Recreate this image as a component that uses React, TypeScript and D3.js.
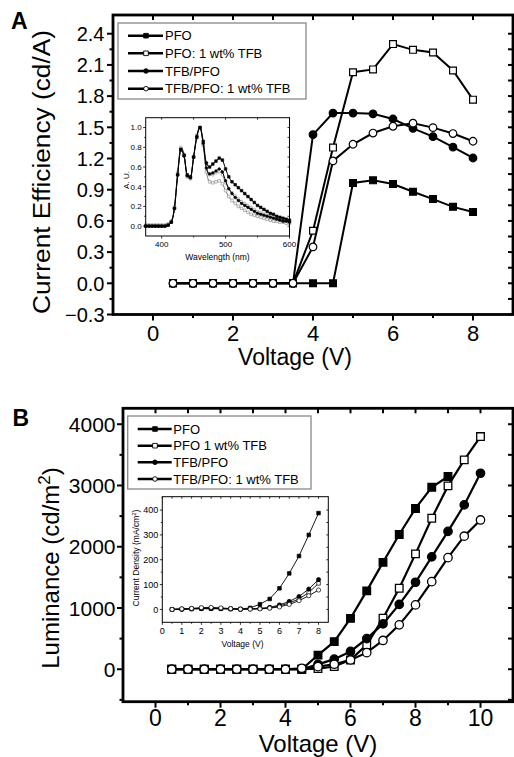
import React, { useEffect, useRef } from "react";
import * as d3 from "d3";

const W = 514,
  H = 757;
const FONT = "'Liberation Sans', Arial, Helvetica, sans-serif";

// ---- panel A: current efficiency vs voltage
const effVolt = [0.5, 1, 1.5, 2, 2.5, 3, 3.5, 4, 4.5, 5, 5.5, 6, 6.5, 7, 7.5, 8];
const effPfo = [0, 0, 0, 0, 0, 0, 0, 0, 0, 0.965, 0.99, 0.955, 0.88, 0.81, 0.735, 0.685];
const effPfoTfb = [0, 0, 0, 0, 0, 0, 0, 0.505, 1.305, 2.03, 2.057, 2.3, 2.245, 2.22, 2.047, 1.766];
const effTfbPfo = [0, 0, 0, 0, 0, 0, 0, 1.43, 1.637, 1.637, 1.63, 1.58, 1.49, 1.41, 1.31, 1.205];
const effTfbPfoTfb = [0, 0, 0, 0, 0, 0, 0, 0.35, 1.177, 1.337, 1.445, 1.51, 1.54, 1.497, 1.44, 1.366];
const namesA = ["PFO", "PFO: 1 wt% TFB", "TFB/PFO", "TFB/PFO: 1 wt% TFB"];
const effXTicks = [0, 2, 4, 6, 8];
const effXMinor = [1, 3, 5, 7];
const effYTicks = [-0.3, 0, 0.3, 0.6, 0.9, 1.2, 1.5, 1.8, 2.1, 2.4];
const effYMinor = [-0.15, 0.15, 0.45, 0.75, 1.05, 1.35, 1.65, 1.95, 2.25];

// inset A: EL spectra
const wl = [375, 380, 385, 390, 395, 400, 405, 410, 415, 420, 425, 430, 435, 440, 445, 450, 455, 460, 465, 470, 475, 480, 485, 490, 495, 500, 505, 510, 515, 520, 525, 530, 535, 540, 545, 550, 555, 560, 565, 570, 575, 580, 585, 590, 595, 600];
const specPfo = [0, 0, 0, 0, 0, 0, 0, 0.01, 0.04, 0.18, 0.52, 0.78, 0.72, 0.52, 0.5, 0.7, 0.9, 1.0, 0.86, 0.64, 0.6, 0.63, 0.66, 0.69, 0.67, 0.58, 0.5, 0.45, 0.42, 0.39, 0.36, 0.33, 0.3, 0.27, 0.24, 0.21, 0.19, 0.17, 0.15, 0.13, 0.12, 0.1, 0.09, 0.08, 0.07, 0.06];
const specPfoTfb = [0.01, 0.01, 0.01, 0.01, 0.01, 0.01, 0.01, 0.02, 0.05, 0.19, 0.53, 0.79, 0.72, 0.5, 0.48, 0.7, 0.92, 1.0, 0.82, 0.55, 0.45, 0.44, 0.45, 0.46, 0.43, 0.36, 0.3, 0.26, 0.23, 0.2, 0.18, 0.16, 0.14, 0.12, 0.11, 0.1, 0.09, 0.08, 0.07, 0.06, 0.05, 0.05, 0.04, 0.04, 0.03, 0.03];
const specTfbPfo = [0, 0, 0, 0, 0, 0, 0, 0.01, 0.04, 0.18, 0.52, 0.77, 0.71, 0.51, 0.49, 0.7, 0.91, 1.0, 0.84, 0.59, 0.53, 0.54, 0.56, 0.58, 0.55, 0.46, 0.38, 0.33, 0.29, 0.26, 0.23, 0.21, 0.19, 0.17, 0.15, 0.13, 0.12, 0.11, 0.1, 0.09, 0.08, 0.07, 0.06, 0.05, 0.05, 0.04];
const specTfbPfoTfb = [0.01, 0.01, 0.01, 0.01, 0.01, 0.01, 0.01, 0.02, 0.05, 0.2, 0.55, 0.8, 0.73, 0.51, 0.49, 0.71, 0.92, 1.0, 0.83, 0.58, 0.52, 0.52, 0.54, 0.55, 0.52, 0.44, 0.38, 0.34, 0.31, 0.28, 0.25, 0.23, 0.21, 0.19, 0.17, 0.15, 0.14, 0.12, 0.11, 0.1, 0.09, 0.08, 0.07, 0.06, 0.05, 0.05];
const wlTicks = [400, 500, 600];
const wlMinor = [450, 550];
const auTicks = [0, 0.2, 0.4, 0.6, 0.8, 1.0];
const auMinor = [0.1, 0.3, 0.5, 0.7, 0.9];

// ---- panel B: luminance vs voltage
const lumVolt = [0.5, 1, 1.5, 2, 2.5, 3, 3.5, 4, 4.5, 5, 5.5, 6, 6.5, 7, 7.5, 8, 8.5, 9, 9.5, 10];
const lumPfo = [0, 0, 0, 0, 0, 0, 0, 0, 0, 230, 450, 830, 1280, 1745, 2200, 2625, 2971, 3146];
const lumPfoTfb = [0, 0, 0, 0, 0, 0, 0, 0, 0, 11, 44, 152, 397, 833, 1322, 1883, 2465, 2993, 3418, 3799];
const lumTfbPfo = [0, 0, 0, 0, 0, 0, 0, 0, 0, 80, 165, 290, 500, 740, 1058, 1420, 1835, 2250, 2683, 3200];
const lumTfbPfoTfb = [0, 0, 0, 0, 0, 0, 0, 0, 16, 42, 82, 152, 271, 470, 725, 1050, 1430, 1822, 2172, 2437];
const namesB = ["PFO", "PFO 1 wt% TFB", "TFB/PFO", "TFB/PFO: 1 wt% TFB"];
const lumXTicks = [0, 2, 4, 6, 8, 10];
const lumXMinor = [1, 3, 5, 7, 9];
const lumYTicks = [0, 1000, 2000, 3000, 4000];
const lumYMinor = [-500, 500, 1500, 2500, 3500];

// inset B: current density
const jPfo = [0, 1, 2, 3, 3, 3, 2, 1, 6, 21, 42, 85, 145, 215, 300, 388];
const jPfoTfb = [0, 1, 3, 5, 5, 4, 2, 1, 2, 3, 6, 14, 26, 42, 68, 105];
const jTfbPfo = [0, 1, 2, 3, 3, 3, 2, 1, 2, 4, 8, 18, 32, 52, 82, 120];
const jTfbPfoTfb = [0, 2, 4, 7, 8, 6, 3, 1, 1, 2, 5, 10, 20, 35, 55, 78];
const jXTicks = [0, 1, 2, 3, 4, 5, 6, 7, 8];
const jXMinor = [0.5, 1.5, 2.5, 3.5, 4.5, 5.5, 6.5, 7.5];
const jYTicks = [0, 100, 200, 300, 400];
const jYMinor = [50, 150, 250, 350];

// marker styles per series (square filled, square open, circle filled, circle open)
const markStyles = [
  { shape: d3.symbolSquare, filled: true },
  { shape: d3.symbolSquare, filled: false },
  { shape: d3.symbolCircle, filled: true },
  { shape: d3.symbolCircle, filled: false }
];

function sym(type, d) {
  // d = visual width
  const size = type === d3.symbolCircle ? (Math.PI * d * d) / 4 : d * d;
  return d3.symbol().type(type).size(size)();
}

function drawBox(g, x, y, c) {
  const [l, r] = x.range();
  const [b, t] = y.range();
  const ln = (x1, y1, x2, y2, w) =>
    g.append("line").attr("x1", x1).attr("y1", y1).attr("x2", x2).attr("y2", y2)
      .attr("stroke", "#000").attr("stroke-width", w);
  c.xMinor.forEach(v => {
    ln(x(v), b, x(v), b + c.minLen, c.tw);
    ln(x(v), t, x(v), t + c.inLen, c.tw);
  });
  c.xMajor.forEach(v => {
    ln(x(v), b, x(v), b + c.majLen, c.tw);
    ln(x(v), t, x(v), t + c.inLen, c.tw);
    g.append("text").attr("x", x(v)).attr("y", b + c.xLabOff)
      .attr("text-anchor", "middle").attr("font-size", c.xFont).text(c.xFmt(v));
  });
  c.yMinor.forEach(v => {
    ln(l, y(v), l - c.minLen, y(v), c.tw);
    ln(r, y(v), r - c.inLen, y(v), c.tw);
  });
  c.yMajor.forEach(v => {
    ln(l, y(v), l - c.majLen, y(v), c.tw);
    ln(r, y(v), r - c.inLen, y(v), c.tw);
    g.append("text").attr("x", l - c.yLabOff).attr("y", y(v)).attr("dy", "0.36em")
      .attr("text-anchor", "end").attr("font-size", c.yFont).text(c.yFmt(v));
  });
  g.append("rect").attr("x", l).attr("y", t).attr("width", r - l).attr("height", b - t)
    .attr("fill", "none").attr("stroke", "#000").attr("stroke-width", c.sw);
}

function drawSeries(g, x, y, xs, ys, st, o) {
  const pts = ys.map((v, i) => [xs[i], v]);
  const line = d3.line().x(d => x(d[0])).y(d => y(d[1]));
  if (o.curve) line.curve(o.curve);
  g.append("path").attr("d", line(pts)).attr("fill", "none")
    .attr("stroke", o.lineColor).attr("stroke-width", o.lw);
  g.append("g").selectAll("path").data(pts).enter().append("path")
    .attr("transform", d => "translate(" + x(d[0]) + "," + y(d[1]) + ")")
    .attr("d", sym(st.shape, o.size))
    .attr("fill", st.filled ? o.markColor : "#fff")
    .attr("stroke", o.markColor).attr("stroke-width", o.msw);
}

function drawLegend(g, names, box, rows, lx1, lx2, mx, tx) {
  g.append("rect").attr("x", box[0]).attr("y", box[1]).attr("width", box[2]).attr("height", box[3])
    .attr("fill", "#fff").attr("stroke", "#888").attr("stroke-width", 1.3);
  names.forEach((n, i) => {
    const st = markStyles[i];
    g.append("line").attr("x1", lx1).attr("x2", lx2).attr("y1", rows[i]).attr("y2", rows[i])
      .attr("stroke", "#000").attr("stroke-width", 2.4);
    g.append("path").attr("transform", "translate(" + mx + "," + rows[i] + ")")
      .attr("d", sym(st.shape, 4.6)).attr("fill", st.filled ? "#000" : "#fff")
      .attr("stroke", "#000").attr("stroke-width", 0.9);
    g.append("text").attr("x", tx).attr("y", rows[i]).attr("dy", "0.36em")
      .attr("font-size", 13).text(n);
  });
}

export default function App() {
  const ref = useRef(null);

  useEffect(() => {
    const svg = d3.select(ref.current);
    svg.selectAll("*").remove();
    svg.attr("font-family", FONT).attr("fill", "#000");

    // ---------------- Panel A
    const gA = svg.append("g");
    const xA = d3.scaleLinear().domain([-1, 9]).range([113, 513]);
    const yA = d3.scaleLinear().domain([-0.3, 2.58]).range([314.5, 15]);
    const fmt1 = d3.format(".1f");

    const effSeries = [effPfo, effPfoTfb, effTfbPfo, effTfbPfoTfb];
    effSeries.forEach((s, i) =>
      drawSeries(gA, xA, yA, effVolt, s, markStyles[i], {
        lineColor: "#000", markColor: "#000", lw: 2, msw: 1.2,
        size: markStyles[i].shape === d3.symbolCircle ? 7.6 : 6.8
      })
    );

    drawBox(gA, xA, yA, {
      xMajor: effXTicks, xMinor: effXMinor, yMajor: effYTicks, yMinor: effYMinor,
      majLen: 6, minLen: 3.5, inLen: 5, tw: 2, sw: 2.8,
      xFont: 22, yFont: 20, xLabOff: 26, yLabOff: 8.5,
      xFmt: d => d, yFmt: fmt1
    });

    drawLegend(gA, namesA, [118, 23, 188, 76], [35.7, 53.3, 71, 88.7], 128, 163, 146, 165);

    // inset A
    const iA = gA.append("g");
    const xiA = d3.scaleLinear().domain([375, 600]).range([145.7, 289.5]);
    const yiA = d3.scaleLinear().domain([-0.1, 1.1]).range([236, 117.7]);
    iA.append("rect").attr("x", 145.7).attr("y", 117.7).attr("width", 143.8).attr("height", 118.3).attr("fill", "#fff");
    const specs = [specPfoTfb, specTfbPfoTfb, specTfbPfo, specPfo];
    const specSt = [markStyles[1], markStyles[3], markStyles[2], markStyles[0]];
    specs.forEach((s, i) =>
      drawSeries(iA, xiA, yiA, wl, s, specSt[i], {
        curve: d3.curveMonotoneX,
        lineColor: specSt[i].filled ? "#000" : "#777",
        markColor: specSt[i].filled ? "#000" : "#888",
        lw: 1, msw: 0.6, size: 2.6
      })
    );
    drawBox(iA, xiA, yiA, {
      xMajor: wlTicks, xMinor: wlMinor, yMajor: auTicks, yMinor: auMinor,
      majLen: 2.5, minLen: 1.5, inLen: 2, tw: 0.8, sw: 1,
      xFont: 8, yFont: 8, xLabOff: 10.5, yLabOff: 4,
      xFmt: d => d, yFmt: fmt1
    });
    iA.append("text").attr("x", 217.5).attr("y", 259.5).attr("text-anchor", "middle")
      .attr("font-size", 8.5).text("Wavelength (nm)");
    iA.append("text").attr("transform", "translate(129,180) rotate(-90)")
      .attr("text-anchor", "middle").attr("font-size", 8).text("A. U.");

    // titles A
    gA.append("text").attr("x", 295).attr("y", 365).attr("text-anchor", "middle")
      .attr("font-size", 23).text("Voltage (V)");
    gA.append("text").attr("transform", "translate(50,172) rotate(-90)")
      .attr("text-anchor", "middle").attr("font-size", 23)
      .attr("textLength", 284).attr("lengthAdjust", "spacingAndGlyphs")
      .text("Current Efficiency (cd/A)");
    gA.append("text").attr("x", 11).attr("y", 28.5).attr("font-size", 23)
      .attr("font-weight", "bold").text("A");

    // ---------------- Panel B
    const gB = svg.append("g");
    const xB = d3.scaleLinear().domain([-1, 11]).range([123, 513]);
    const yB = d3.scaleLinear().domain([-530, 4260]).range([701.7, 408.3]);

    const lumSeries = [lumPfo, lumPfoTfb, lumTfbPfo, lumTfbPfoTfb];
    lumSeries.forEach((s, i) =>
      drawSeries(gB, xB, yB, lumVolt, s, markStyles[i], {
        lineColor: "#000", markColor: "#000", lw: 2.2, msw: 1.3,
        size: markStyles[i].shape === d3.symbolCircle ? 8.4 : 7.6
      })
    );

    drawBox(gB, xB, yB, {
      xMajor: lumXTicks, xMinor: lumXMinor, yMajor: lumYTicks, yMinor: lumYMinor,
      majLen: 6, minLen: 3.5, inLen: 5, tw: 2, sw: 2.8,
      xFont: 23, yFont: 21, xLabOff: 24.5, yLabOff: 7.5,
      xFmt: d => d, yFmt: d => d
    });

    drawLegend(gB, namesB, [127.7, 416, 183.3, 73], [429, 445.7, 462.3, 479], 137.7, 171.7, 155, 173.3);

    // inset B
    const iB = gB.append("g");
    const xiB = d3.scaleLinear().domain([0, 8.5]).range([162.3, 328.3]);
    const yiB = d3.scaleLinear().domain([-52, 454]).range([622.3, 496.7]);
    iB.append("rect").attr("x", 162.3).attr("y", 496.7).attr("width", 166).attr("height", 125.6).attr("fill", "#fff");
    const jSeries = [jPfo, jPfoTfb, jTfbPfo, jTfbPfoTfb];
    jSeries.forEach((s, i) =>
      drawSeries(iB, xiB, yiB, effVolt, s, markStyles[i], {
        lineColor: "#000", markColor: "#000", lw: 0.9, msw: 0.7,
        size: markStyles[i].shape === d3.symbolCircle ? 4.2 : 3.6
      })
    );
    drawBox(iB, xiB, yiB, {
      xMajor: jXTicks, xMinor: jXMinor, yMajor: jYTicks, yMinor: jYMinor,
      majLen: 2.5, minLen: 1.5, inLen: 2, tw: 0.8, sw: 1,
      xFont: 9, yFont: 9, xLabOff: 11.5, yLabOff: 4,
      xFmt: d => d, yFmt: d => d
    });
    iB.append("text").attr("x", 242.5).attr("y", 646.5).attr("text-anchor", "middle")
      .attr("font-size", 8.5).text("Voltage (V)");
    const jt = iB.append("text").attr("transform", "translate(139,558) rotate(-90)")
      .attr("text-anchor", "middle").attr("font-size", 8.5);
    jt.append("tspan").text("Current Density (mA/cm");
    jt.append("tspan").attr("font-size", 6).attr("dy", -3.5).text("2");
    jt.append("tspan").attr("dy", 3.5).text(")");

    // titles B
    gB.append("text").attr("x", 318).attr("y", 752).attr("text-anchor", "middle")
      .attr("font-size", 24).text("Voltage (V)");
    const lt = gB.append("text").attr("transform", "translate(59,568) rotate(-90)")
      .attr("text-anchor", "middle").attr("font-size", 24);
    lt.append("tspan").text("Luminance (cd/m");
    lt.append("tspan").attr("font-size", 17).attr("dy", -9).text("2");
    lt.append("tspan").attr("dy", 9).text(")");
    gB.append("text").attr("x", 12.5).attr("y", 425.5).attr("font-size", 23)
      .attr("font-weight", "bold").text("B");
  }, []);

  return (
    <svg
      ref={ref}
      width={W}
      height={H}
      style={{ position: "absolute", left: 0, top: 0, background: "#fff" }}
    />
  );
}
